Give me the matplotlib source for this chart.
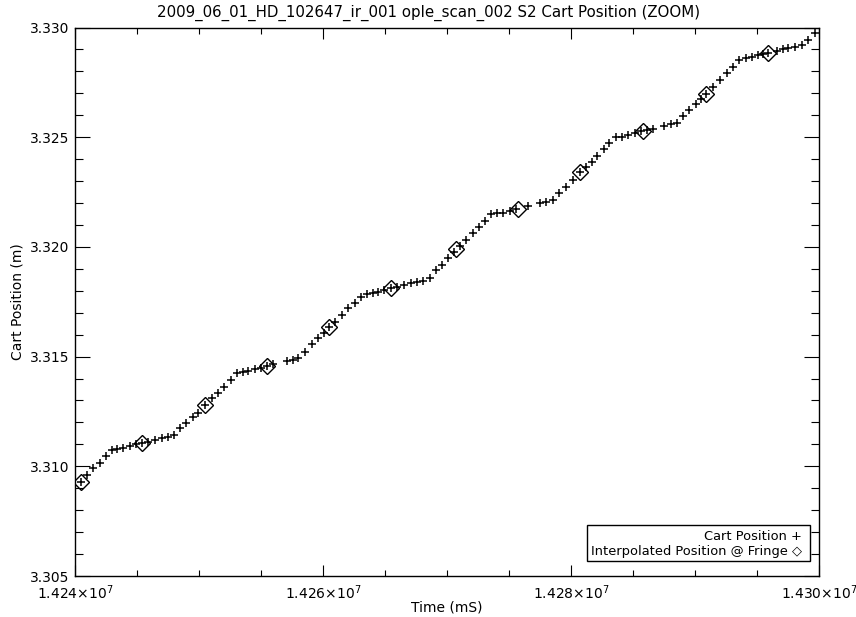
import matplotlib
matplotlib.use("Agg")
import matplotlib.pyplot as plt
from matplotlib.ticker import FixedLocator, MultipleLocator
from matplotlib.patches import Rectangle

# cart position samples (time in mS, position in m)
cart_time = [
    14240460, 14240944, 14241476, 14242016, 14242500, 14242960, 14243411, 14243895,
    14244435, 14244919, 14245379, 14245911, 14246452, 14246992, 14247524, 14248008,
    14248468, 14248952, 14249492, 14249944, 14250484, 14251024, 14251556, 14252040,
    14252556, 14253040, 14253524, 14253976, 14254516, 14255000, 14255460, 14255992,
    14257073, 14257556, 14258008, 14258548, 14259089, 14259621, 14260081, 14260508,
    14260968, 14261508, 14262040, 14262581, 14263065, 14263524, 14264008, 14264460,
    14264944, 14265460, 14265944, 14266532, 14267073, 14267556, 14268089, 14268629,
    14269089, 14269573, 14270105, 14270565, 14271048, 14271532, 14272073, 14272605,
    14273065, 14273524, 14274008, 14274540, 14275081, 14275565, 14276556, 14277500,
    14277984, 14278524, 14279056, 14279597, 14280137, 14280726, 14281210, 14281669,
    14282073, 14282661, 14283089, 14283629, 14284089, 14284621, 14285161, 14285645,
    14286129, 14286589, 14287500, 14288040, 14288573, 14289056, 14289540, 14290081,
    14290484, 14290887, 14291476, 14292016, 14292556, 14293089, 14293573, 14294113,
    14294573, 14295056, 14295508, 14295911, 14296589, 14297073, 14297524, 14298065,
    14298605, 14299137, 14299677,
]
cart_pos = [
    3.30930, 3.30960, 3.30991, 3.31016, 3.31047, 3.31074, 3.31079, 3.31085,
    3.31093, 3.31100, 3.31105, 3.31112, 3.31120, 3.31128, 3.31135, 3.31143,
    3.31173, 3.31199, 3.31223, 3.31242, 3.31279, 3.31310, 3.31335, 3.31363,
    3.31393, 3.31424, 3.31431, 3.31436, 3.31442, 3.31449, 3.31457, 3.31466,
    3.31481, 3.31485, 3.31492, 3.31522, 3.31557, 3.31583, 3.31609, 3.31636,
    3.31659, 3.31690, 3.31720, 3.31746, 3.31773, 3.31785, 3.31791, 3.31796,
    3.31804, 3.31811, 3.31819, 3.31826, 3.31834, 3.31839, 3.31845, 3.31857,
    3.31895, 3.31918, 3.31948, 3.31978, 3.32004, 3.32031, 3.32062, 3.32089,
    3.32119, 3.32149, 3.32153, 3.32156, 3.32165, 3.32171, 3.32185, 3.32200,
    3.32206, 3.32214, 3.32244, 3.32274, 3.32305, 3.32343, 3.32366, 3.32388,
    3.32414, 3.32445, 3.32472, 3.32500, 3.32502, 3.32510, 3.32518, 3.32526,
    3.32533, 3.32537, 3.32552, 3.32559, 3.32566, 3.32597, 3.32624, 3.32651,
    3.32674, 3.32697, 3.32728, 3.32761, 3.32791, 3.32821, 3.32852, 3.32860,
    3.32867, 3.32875, 3.32879, 3.32885, 3.32894, 3.32902, 3.32908, 3.32913,
    3.32920, 3.32943, 3.32974,
]

# interpolated position at each fringe
fringe_time = [14240460, 14245379, 14250484, 14255460, 14260508, 14265460,
               14270726, 14275750, 14280726, 14285782, 14290887, 14295911]
fringe_pos = [3.30930, 3.31105, 3.31279, 3.31457, 3.31636, 3.31811,
              3.31990, 3.32173, 3.32343, 3.32528, 3.32697, 3.32885]

x_ticks = [14240000, 14260000, 14280000, 14300000]
x_tick_labels = [r'1.424$\times$10$^{7}$', r'1.426$\times$10$^{7}$',
                 r'1.428$\times$10$^{7}$', r'1.430$\times$10$^{7}$']
y_ticks = [3.305, 3.310, 3.315, 3.320, 3.325, 3.330]

plt.rcParams['font.family'] = ['DejaVu Sans']
plt.rcParams['mathtext.default'] = 'regular'

fig = plt.figure(figsize=(8.56, 6.17), dpi=100)
ax = fig.add_axes([75 / 856, 1 - 576 / 617, 744 / 856, 548.5 / 617])

ax.plot(cart_time, cart_pos, linestyle='none', marker='+', color='black',
        markersize=5.5, markeredgewidth=1.1)
ax.plot(fringe_time, fringe_pos, linestyle='none', marker='D', color='black',
        markerfacecolor='none', markersize=8, markeredgewidth=1.0)

ax.set_xlim(14240000, 14300000)
ax.set_ylim(3.305, 3.330)

ax.xaxis.set_major_locator(FixedLocator(x_ticks))
ax.set_xticklabels(x_tick_labels)
ax.xaxis.set_minor_locator(MultipleLocator(5000))
ax.yaxis.set_major_locator(FixedLocator(y_ticks))
ax.set_yticklabels(['%.3f' % v for v in y_ticks])
ax.yaxis.set_minor_locator(MultipleLocator(0.001))

ax.tick_params(axis='both', which='both', direction='in', top=True, right=True,
               labelsize=10, width=0.8, colors='black')
ax.tick_params(axis='x', which='major', length=8, pad=5)
ax.tick_params(axis='x', which='minor', length=4)
ax.tick_params(axis='y', which='major', length=11, pad=4)
ax.tick_params(axis='y', which='minor', length=5.5)

for s in ax.spines.values():
    s.set_linewidth(1.0)

fig.text(429 / 856, 1 - 13 / 617,
         '2009_06_01_HD_102647_ir_001 ople_scan_002 S2 Cart Position (ZOOM)',
         fontsize=10.8, ha='center', va='center')
ax.set_xlabel('Time (mS)', fontsize=10, labelpad=-1)
ax.set_ylabel('Cart Position (m)', fontsize=10, labelpad=4)

# legend box in the lower right, drawn the IDL way
ax.add_patch(Rectangle(((587 - 75) / 744, (576 - 561) / 548.5),
                       223 / 744, 36 / 548.5, transform=ax.transAxes,
                       fill=False, edgecolor='black', linewidth=1.0))
ax.text((802 - 75) / 744, (576 - 536) / 548.5, 'Cart Position +',
        transform=ax.transAxes, ha='right', va='center', fontsize=9.4)
ax.text((802 - 75) / 744, (576 - 551) / 548.5, 'Interpolated Position @ Fringe \u25c7',
        transform=ax.transAxes, ha='right', va='center', fontsize=9.4)

fig.savefig('out.png', dpi=100)
